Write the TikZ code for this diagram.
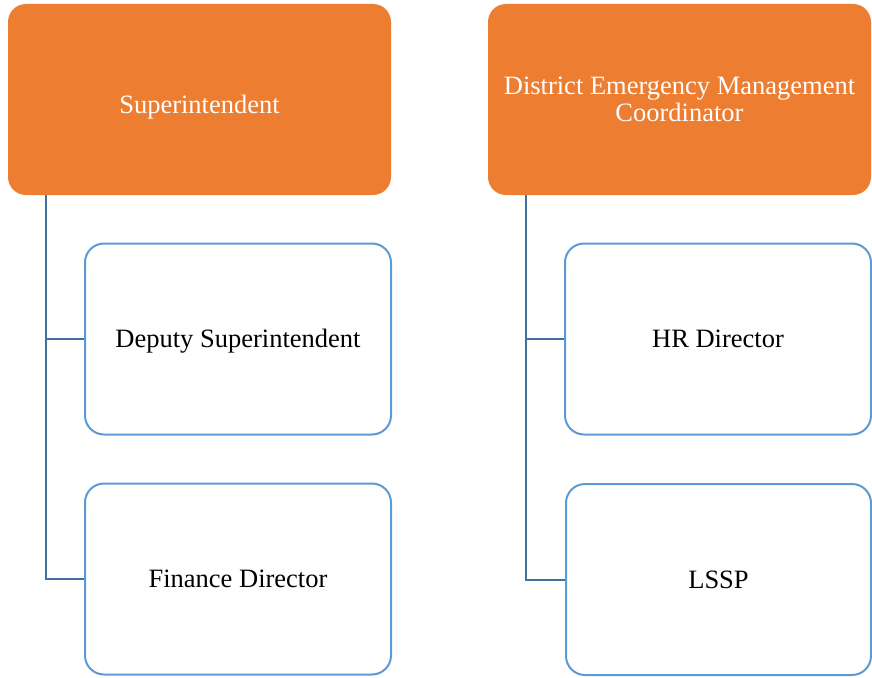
\documentclass[tikz,border=0pt]{standalone}
\usepackage{fontspec}
\setmainfont{Liberation Serif}
\definecolor{headfill}{HTML}{ED7D31}
\definecolor{childline}{HTML}{5B9BD5}
\definecolor{linkline}{HTML}{41719C}
\begin{document}
\begin{tikzpicture}[x=1pt,y=-1pt,
  boxtext/.style={font=\fontsize{26.5}{27}\selectfont,align=center,inner sep=0pt},
  oneline/.style={text height=#1,text depth=0pt},
  headbox/.style={boxtext,draw=none,fill=headfill,rounded corners=18pt,text=white,
    minimum width=383pt,minimum height=191pt},
  childbox/.style={boxtext,oneline=17pt,draw=childline,line width=2pt,fill=white,
    rounded corners=19pt,minimum width=306pt,minimum height=191pt},
  link/.style={draw=linkline,line width=2pt}]
\useasboundingbox (0,0) rectangle (872,677);
% top-level boxes
\node[headbox,oneline=28pt] (sup) at (199.5,99.5) {Superintendent};
\node[headbox] (demc) at (679.5,99.5) {District Emergency Management\\Coordinator};
% reporting boxes
\node[childbox] (dep) at (238,339) {Deputy Superintendent};
\node[childbox] (fin) at (238,579) {Finance Director};
\node[childbox] (hr) at (718,339) {HR Director};
\node[childbox,minimum width=305pt] (lssp) at (718.5,579.5) {LSSP};
% connectors
\coordinate (la) at (46,195);
\coordinate (ra) at (526,195);
\draw[link] (la) |- (fin.west);
\draw[link] (la |- dep.west) -- (dep.west);
\draw[link] (ra) |- (lssp.west);
\draw[link] (ra |- hr.west) -- (hr.west);
\end{tikzpicture}
\end{document}
